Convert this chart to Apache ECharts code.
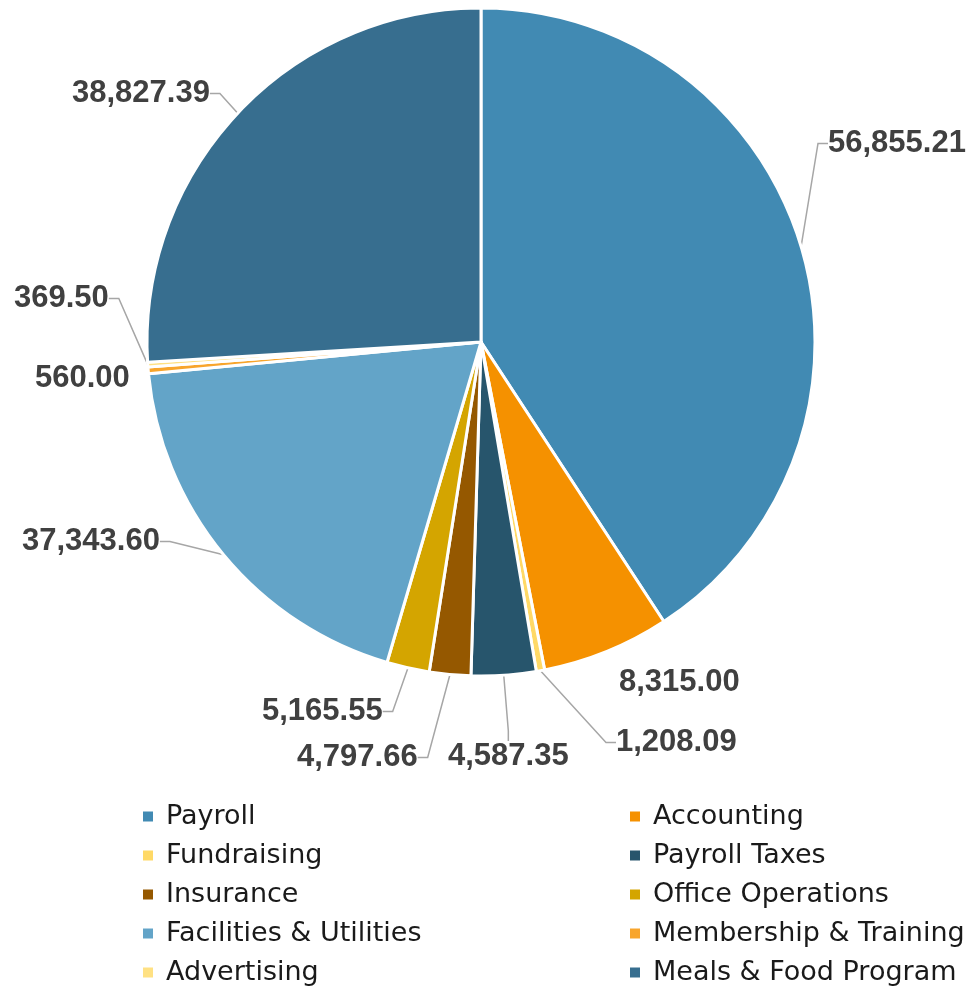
<!DOCTYPE html>
<html>
<head>
<meta charset="utf-8">
<script src="https://cdn.jsdelivr.net/npm/echarts@6/dist/echarts.min.js"></script>
<style>
  html, body { margin: 0; padding: 0; background: #fff; }
  #chart { width: 971px; height: 986px; }
</style>
</head>
<body>
<div id="chart"></div>
<script>
// 数据
const categories = ['Payroll', 'Accounting', 'Fundraising', 'Payroll Taxes', 'Insurance',
  'Office Operations', 'Facilities & Utilities', 'Membership & Training', 'Advertising', 'Meals & Food Program']
// 标签上显示的金额
const amounts = [56855.21, 8315.00, 1208.09, 4587.35, 4797.66, 5165.55, 37343.60, 560.00, 369.50, 38827.39]
// 图中扇区实际大小 (百分比, 从图上量出, 与标签金额不成比例)
const shares = [40.78, 6.17, 0.40, 3.13, 2.00, 2.06, 18.94, 0.33, 0.22, 25.97]
const colors = ['#418AB3', '#F59100', '#FFD966', '#27556C', '#955800',
  '#D4A500', '#63A4C8', '#F8A52C', '#FFE183', '#376E8F']
const noLine = ['Accounting', 'Membership & Training']

// 标签位置 (左上角), Excel 手动摆放
const labelPos = [
  [828, 128], [619, 667], [616, 727], [448, 741], [297, 742],
  [262, 696], [22, 526], [35, 363], [14, 283], [72, 78]
]

const legendLeft = ['Payroll', 'Fundraising', 'Insurance', 'Facilities & Utilities', 'Advertising']
const legendRight = ['Accounting', 'Payroll Taxes', 'Office Operations', 'Membership & Training', 'Meals & Food Program']

const fmt = v => v.toLocaleString('en-US', { minimumFractionDigits: 2, maximumFractionDigits: 2 })

const chart = echarts.init(document.getElementById('chart'))

const legendBase = {
  orient: 'vertical',
  top: 803,
  height: 200,
  padding: 0,
  itemWidth: 12,
  itemHeight: 12,
  itemGap: 12,
  icon: 'rect',
  textStyle: {
    fontFamily: 'DejaVu Sans',
    fontSize: 27,
    color: '#1a1a1a',
    padding: [0, 0, 0, 7]
  }
}

chart.setOption({
  animation: false,
  color: colors,
  legend: [
    Object.assign({}, legendBase, { left: 141, data: legendLeft }),
    Object.assign({}, legendBase, { left: 628, data: legendRight })
  ],
  series: [
    {
      type: 'pie',
      center: [481, 342],
      radius: 334,
      startAngle: 90,
      clockwise: true,
      avoidLabelOverlap: false,
      itemStyle: {
        borderColor: '#fff',
        borderWidth: 3
      },
      label: {
        show: true,
        position: 'outside',
        formatter: p => fmt(amounts[p.dataIndex]),
        fontFamily: 'Liberation Sans',
        fontWeight: 'bold',
        fontSize: 31,
        color: '#404040'
      },
      labelLine: {
        show: true,
        length: 10,
        length2: 10,
        lineStyle: { color: '#a6a6a6', width: 1.5 }
      },
      labelLayout: p => ({
        x: labelPos[p.dataIndex][0],
        y: labelPos[p.dataIndex][1],
        align: 'left',
        verticalAlign: 'top'
      }),
      data: categories.map((name, i) => ({
        name: name,
        value: shares[i],
        labelLine: { show: noLine.indexOf(name) < 0 }
      }))
    }
  ]
})
</script>
</body>
</html>
